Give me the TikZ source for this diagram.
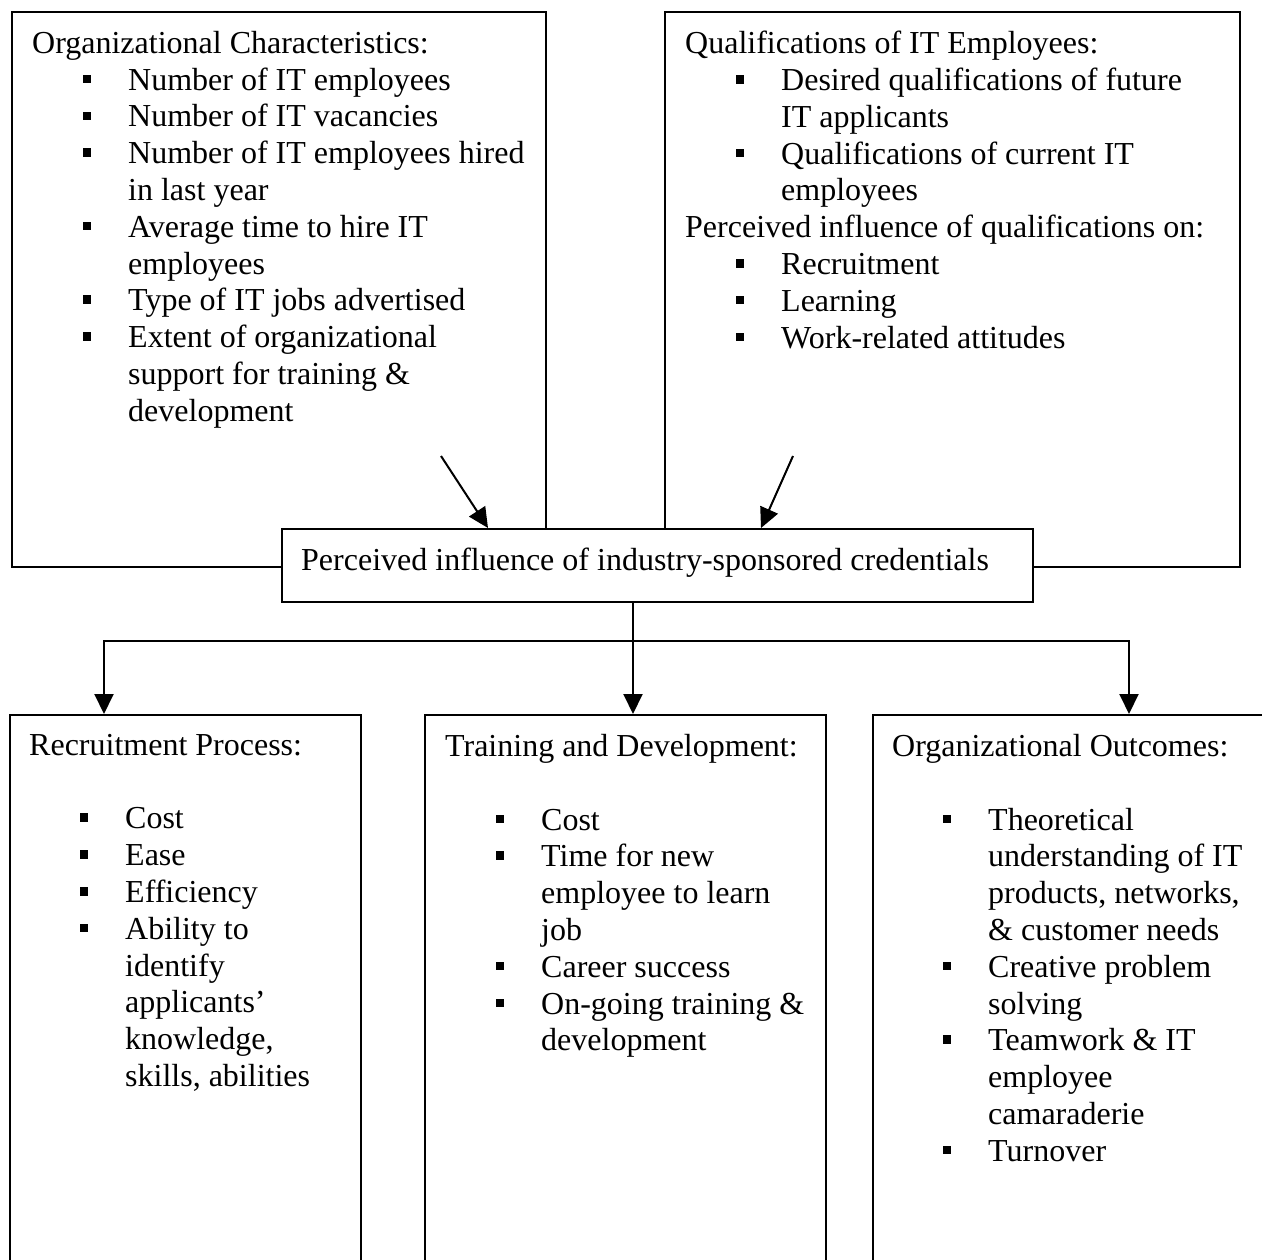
\documentclass[tikz,border=0pt]{standalone}
\usepackage{fontspec}
\setmainfont{Liberation Serif}
\usetikzlibrary{arrows.meta, positioning, fit, calc}

\setlength{\parindent}{0pt}
\newcommand{\sqbullet}{\rule[7pt]{8.5pt}{8.5pt}}
\newenvironment{sqlist}{%
  \begin{list}{\sqbullet}{%
    \setlength{\leftmargin}{96pt}\setlength{\labelwidth}{59pt}%
    \setlength{\labelsep}{37pt}\setlength{\itemindent}{0pt}%
    \setlength{\topsep}{0pt}\setlength{\partopsep}{0pt}%
    \setlength{\itemsep}{0pt}\setlength{\parsep}{0pt}}}%
  {\end{list}}

\begin{document}
\begin{tikzpicture}[
    % --- Global styles ---
    x=1pt, y=-1pt,
    >={Triangle[length=20pt,width=19pt]},
    every node/.style={font=\fontsize{32}{36.8}\selectfont},
    % --- Boxes ---
    panel/.style={draw, line width=2pt, inner sep=0pt},
    keybox/.style={panel, fill=white},
    panel text/.style={inner sep=0pt, align=flush left},
    % --- Arrow styles ---
    flow/.style={->, line width=2pt},
  ]

  \useasboundingbox (0,0) rectangle (1262,1260);
  \clip (0,0) rectangle (1262,1260);

  %% ---- Boxes (top row, centre, bottom row) ----

  % Organizational characteristics
  \node[panel, fit={(12,12) (546,567)}] (orgchar) {};

  % Qualifications of IT employees
  \node[panel, fit={(665,12) (1240,567)}] (qual) {};

  % Industry-sponsored credentials
  \node[keybox, fit={(282,529) (1033,602)}] (cred) {};

  % Recruitment process
  \node[panel, fit={(10,715) (361,1300)}] (recr) {};

  % Training and development
  \node[panel, fit={(425,715) (826,1300)}] (train) {};

  % Organizational outcomes
  \node[panel, fit={(873,715) (1300,1300)}] (outc) {};

  %% ---- Texts ----

  \node[panel text, text width=503pt, below right=20pt and 21pt of orgchar.north west] (orgtext)
    {Organizational Characteristics:
     \begin{sqlist}
     \item Number of IT employees
     \item Number of IT vacancies
     \item Number of IT employees hired\newline in last year
     \item Average time to hire IT\newline employees
     \item Type of IT jobs advertised
     \item Extent of organizational\newline support for training \&\newline development
     \end{sqlist}};

  \node[panel text, text width=544pt, below right=20pt and 21pt of qual.north west] (qualtext)
    {Qualifications of IT Employees:
     \begin{sqlist}
     \item Desired qualifications of future\newline IT applicants
     \item Qualifications of current IT\newline employees
     \end{sqlist}
     Perceived influence of qualifications on:
     \begin{sqlist}
     \item Recruitment
     \item Learning
     \item Work-related attitudes
     \end{sqlist}};

  \node[inner sep=0pt, below right=20pt and 20pt of cred.north west] (credtext)
    {Perceived influence of industry-sponsored credentials};

  \node[panel text, text width=321pt, below right=20pt and 20pt of recr.north west] (recrtext)
    {Recruitment Process:\par\vspace{36.8pt}
     \begin{sqlist}
     \item Cost
     \item Ease
     \item Efficiency
     \item Ability to\newline identify\newline applicants'\newline knowledge,\newline skills, abilities
     \end{sqlist}};

  \node[panel text, text width=370pt, below right=20pt and 21pt of train.north west] (traintext)
    {Training and Development:\par\vspace{36.8pt}
     \begin{sqlist}
     \item Cost
     \item Time for new\newline employee to learn\newline job
     \item Career success
     \item On-going training \&\newline development
     \end{sqlist}};

  \node[panel text, text width=370pt, below right=20pt and 20pt of outc.north west] (outctext)
    {Organizational Outcomes:\par\vspace{36.8pt}
     \begin{sqlist}
     \item Theoretical\newline understanding of IT\newline products, networks,\newline \& customer needs
     \item Creative problem\newline solving
     \item Teamwork \& IT\newline employee\newline camaraderie
     \item Turnover
     \end{sqlist}};

  %% ---- Arrows ----

  \coordinate (orgtail) at (441,456);
  \coordinate (qualtail) at (793,456);
  \coordinate (split) at (633,641);

  \draw[flow] (orgtail) -- ($(cred.north west)+(207,0)$);
  \draw[flow] (qualtail) -- ($(cred.north west)+(480,0)$);

  \draw[flow] (cred.south -| split) -- (split |- train.north);
  \draw[flow] (split) -| ($(recr.north west)+(95,0)$);
  \draw[flow] (split) -| ($(outc.north west)+(257,0)$);

\end{tikzpicture}
\end{document}
